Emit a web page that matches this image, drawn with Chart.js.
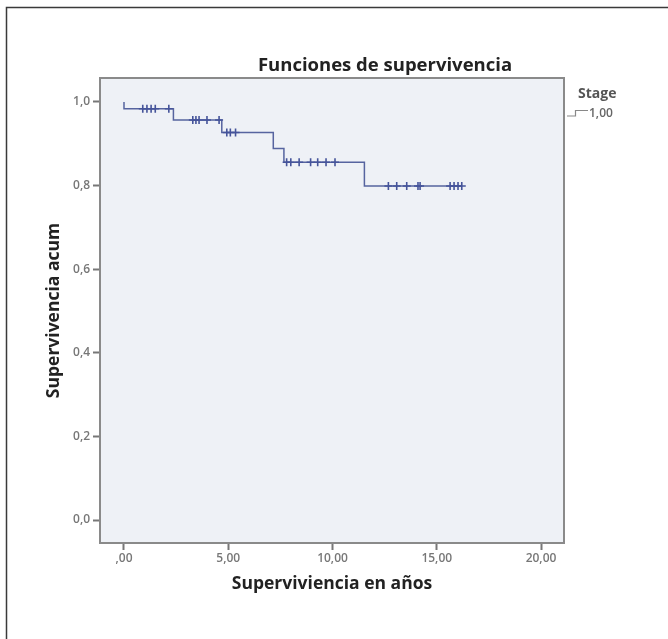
<!DOCTYPE html>
<html>
<head>
<meta charset="utf-8">
<script src="https://cdn.jsdelivr.net/npm/chart.js@4/dist/chart.umd.min.js"></script>
<style>
  html, body { margin: 0; padding: 0; background: #ffffff; }
  #wrap { width: 668px; height: 639px; position: relative; }
</style>
</head>
<body>
<div id="wrap"><canvas id="c" width="668" height="639"></canvas></div>
<script>
// ---- data ----
const stepTimes    = [0.00, 0.00, 2.37, 4.69, 7.16, 7.67, 11.53];
const stepSurvival = [1.000, 0.984, 0.957, 0.927, 0.889, 0.856, 0.799];
const lastTime     = 16.20;
const censorTimes  = [0.90, 1.10, 1.30, 1.50, 2.15,
                      3.30, 3.45, 3.60, 3.98, 4.56,
                      4.93, 5.10, 5.35,
                      7.80, 8.00, 8.40, 8.95, 9.29, 9.69, 10.12,
                      12.68, 13.08, 13.56, 14.10, 14.20, 15.64, 15.83, 16.02, 16.20];
const xTickValues  = [0, 5, 10, 15, 20];
const xTickLabels  = [",00", "5,00", "10,00", "15,00", "20,00"];
const yTickValues  = [0, 0.2, 0.4, 0.6, 0.8, 1.0];
const yTickLabels  = ["0,0", "0,2", "0,4", "0,6", "0,8", "1,0"];
const seriesName   = "1,00";
const legendTitle  = "Stage";
const chartTitle   = "Funciones de supervivencia";
const xTitle       = "Superviviencia en años";
const yTitle       = "Supervivencia acum";

// survival value at time t from the step function
function survAt(t) {
  let s = stepSurvival[0];
  for (let i = 0; i < stepTimes.length; i++) if (stepTimes[i] <= t) s = stepSurvival[i];
  return s;
}
const curve = stepTimes.map((t, i) => ({x: t, y: stepSurvival[i]}));
curve.push({x: lastTime, y: stepSurvival[stepSurvival.length - 1]});
const censors = censorTimes.map(t => ({x: t, y: survAt(t)}));

const LINE = '#56649f';
const MARK = '#45549a';
const FONT = '"Open Sans", "DejaVu Sans", sans-serif';

const decor = {
  id: 'decor',
  beforeDraw(chart) {
    const {ctx, chartArea: a} = chart;
    ctx.save();
    ctx.fillStyle = '#eef1f6';
    ctx.fillRect(a.left, a.top, a.right - a.left, a.bottom - a.top);
    ctx.restore();
  },
  afterDraw(chart) {
    const {ctx, chartArea: a} = chart;
    ctx.save();
    // plot frame
    ctx.strokeStyle = '#8a8a8a';
    ctx.lineWidth = 2;
    ctx.strokeRect(a.left, a.top, a.right - a.left, a.bottom - a.top);
    // outer figure frame (top and left visible)
    ctx.strokeStyle = '#3a3a3a';
    ctx.lineWidth = 1.5;
    ctx.beginPath();
    ctx.moveTo(6.5, 639); ctx.lineTo(6.5, 7.5); ctx.lineTo(668, 7.5);
    ctx.stroke();
    // title
    ctx.fillStyle = '#222';
    ctx.font = 'bold 18.5px ' + FONT;
    ctx.textAlign = 'center';
    ctx.textBaseline = 'middle';
    ctx.fillText(chartTitle, 385, 66);
    // legend
    ctx.font = 'bold 14px ' + FONT;
    ctx.fillStyle = '#555';
    ctx.textAlign = 'left';
    ctx.fillText(legendTitle, 578, 94);
    ctx.font = '600 12px ' + FONT;
    ctx.fillStyle = '#666';
    ctx.fillText(seriesName, 589, 114);
    ctx.strokeStyle = '#888';
    ctx.lineWidth = 1.2;
    ctx.beginPath();
    ctx.moveTo(567, 116); ctx.lineTo(575.5, 116); ctx.lineTo(575.5, 110.5); ctx.lineTo(588, 110.5);
    ctx.stroke();
    ctx.restore();
  }
};

new Chart(document.getElementById('c'), {
  type: 'line',
  data: {
    datasets: [
      {
        label: seriesName,
        data: curve,
        stepped: 'before',
        borderColor: LINE,
        borderWidth: 1.5,
        pointRadius: 0,
        fill: false,
        order: 2
      },
      {
        label: 'censored',
        type: 'scatter',
        data: censors,
        pointStyle: 'cross',
        pointRadius: 4,
        borderColor: MARK,
        backgroundColor: MARK,
        pointBorderWidth: 1.6,
        order: 1
      }
    ]
  },
  options: {
    responsive: false,
    animation: false,
    devicePixelRatio: 1,
    layout: { padding: { top: 78, right: 104, bottom: 0, left: 0 } },
    plugins: {
      legend: { display: false },
      title: { display: false },
      tooltip: { enabled: false }
    },
    scales: {
      x: {
        type: 'linear',
        min: -1.151,
        max: 21.103,
        afterBuildTicks: s => { s.ticks = xTickValues.map(v => ({value: v})); },
        afterFit: s => { s.height = 96; },
        ticks: {
          callback: (v) => { const i = xTickValues.indexOf(v); return i >= 0 ? xTickLabels[i] : ''; },
          color: '#777',
          font: { family: FONT, size: 12, weight: '600' },
          padding: 1,
          maxRotation: 0,
          autoSkip: false
        },
        grid: { drawOnChartArea: false, drawTicks: true, tickLength: 7, color: '#777', tickWidth: 2 },
        border: { display: false },
        title: {
          display: true,
          text: xTitle,
          color: '#222',
          font: { family: FONT, size: 17.5, weight: 'bold' },
          padding: { top: 0, bottom: 44 }
        }
      },
      y: {
        type: 'linear',
        min: -0.055,
        max: 1.0574,
        afterBuildTicks: s => { s.ticks = yTickValues.map(v => ({value: v})); },
        afterFit: s => { s.width = 100; },
        ticks: {
          callback: (v) => { const i = yTickValues.findIndex(t => Math.abs(t - v) < 1e-9); return i >= 0 ? yTickLabels[i] : ''; },
          color: '#777',
          font: { family: FONT, size: 12, weight: '600' },
          padding: 3,
          autoSkip: false
        },
        grid: { drawOnChartArea: false, drawTicks: true, tickLength: 7, color: '#777', tickWidth: 2 },
        border: { display: false },
        title: {
          display: true,
          text: yTitle,
          color: '#222',
          font: { family: FONT, size: 17.5, weight: 'bold' },
          padding: { top: 44, bottom: 0 }
        }
      }
    }
  },
  plugins: [decor]
});
</script>
</body>
</html>
